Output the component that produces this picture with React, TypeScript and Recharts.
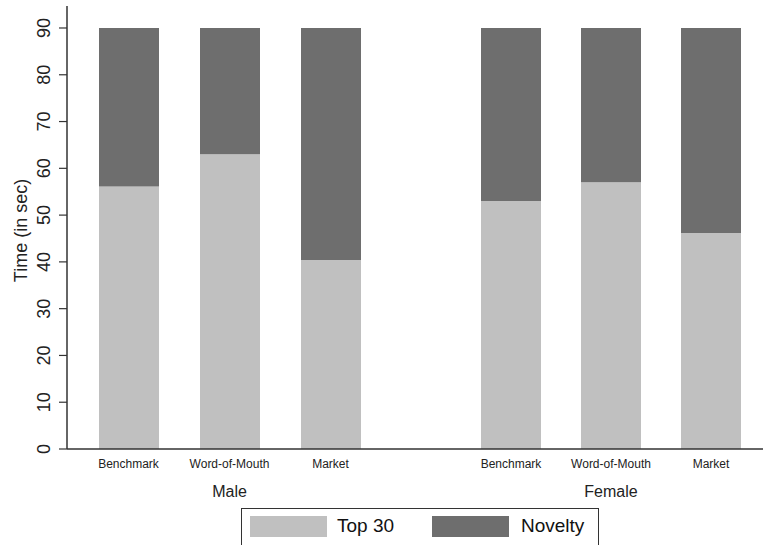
import React from 'react';
import { BarChart, Bar, XAxis, YAxis, Label } from 'recharts';

const categories = ['Benchmark', 'Word-of-Mouth', 'Market'];
const groupLabels = ['Male', 'Female'];
const maleTop30 = [56.1, 63.0, 40.4];
const maleNovelty = [33.9, 27.0, 49.6];
const femaleTop30 = [53.0, 57.0, 46.2];
const femaleNovelty = [37.0, 33.0, 43.8];
const yTicks = [0, 10, 20, 30, 40, 50, 60, 70, 80, 90];
const seriesNames = ['Top 30', 'Novelty'];

const FONT = '"Liberation Sans", Arial, Helvetica, sans-serif';
const LIGHT = '#c0c0c0';
const DARK = '#6e6e6e';
const AXIS = '#333333';

const maleData = categories.map((c, i) => ({ cat: c, top30: maleTop30[i], novelty: maleNovelty[i] }));
const femaleData = categories.map((c, i) => ({ cat: c, top30: femaleTop30[i], novelty: femaleNovelty[i] }));

const Y_DOMAIN: [number, number] = [0, 94.7];

const XTick = (props: any) => {
  const { x, y, payload } = props;
  return (
    <text x={x} y={y + 19} textAnchor="middle" fontSize={12} fontFamily={FONT} fill="#222">
      {payload.value}
    </text>
  );
};

const YTick = (props: any) => {
  const { x, y, payload } = props;
  const bx = x - 9;
  return (
    <text
      x={bx}
      y={y}
      transform={`rotate(-90, ${bx}, ${y})`}
      textAnchor="middle"
      fontSize={18}
      fontFamily={FONT}
      fill="#222"
    >
      {payload.value}
    </text>
  );
};

const groupLabel = (text: string, padL: number, padR: number) => (props: any) => {
  const vb = props.viewBox || {};
  const cx = vb.x + padL + (vb.width - padL - padR) / 2;
  return (
    <text x={cx} y={vb.y + 48} textAnchor="middle" fontSize={16} fontFamily={FONT} fill="#222">
      {text}
    </text>
  );
};

const yLabel = (props: any) => {
  const vb = props.viewBox || {};
  const cy = vb.y + vb.height / 2 + 3;
  const bx = 27;
  return (
    <text
      x={bx}
      y={cy}
      transform={`rotate(-90, ${bx}, ${cy})`}
      textAnchor="middle"
      fontSize={18}
      fontFamily={FONT}
      fill="#222"
    >
      Time (in sec)
    </text>
  );
};

const MALE_PAD = { left: 11, right: 49 };
const FEMALE_PAD = { left: 31, right: 2 };

export default function App() {
  return (
    <div
      style={{
        position: 'absolute',
        left: 0,
        top: 0,
        width: 764,
        height: 545,
        background: '#fff',
        overflow: 'hidden',
        fontFamily: FONT,
      }}
    >
      <div style={{ position: 'absolute', left: 0, top: 0 }}>
        <BarChart width={430} height={545} data={maleData} margin={{ top: 6, right: 0, left: 0, bottom: 0 }}>
          <XAxis
            dataKey="cat"
            height={96}
            padding={MALE_PAD}
            tickLine={false}
            tickSize={0}
            tickMargin={0}
            tick={<XTick />}
            interval={0}
            axisLine={{ stroke: AXIS, strokeWidth: 1.5 }}
          >
            <Label content={groupLabel(groupLabels[0], MALE_PAD.left, MALE_PAD.right)} />
          </XAxis>
          <YAxis
            width={67}
            domain={Y_DOMAIN}
            ticks={yTicks}
            allowDataOverflow
            tickSize={8}
            tickMargin={0}
            tickLine={{ stroke: AXIS, strokeWidth: 1.2 }}
            axisLine={{ stroke: AXIS, strokeWidth: 1.5 }}
            tick={<YTick />}
          >
            <Label content={yLabel} />
          </YAxis>
          <Bar dataKey="top30" stackId="a" fill={LIGHT} barSize={60} isAnimationActive={false} name={seriesNames[0]} />
          <Bar dataKey="novelty" stackId="a" fill={DARK} barSize={60} isAnimationActive={false} name={seriesNames[1]} />
        </BarChart>
      </div>
      <div style={{ position: 'absolute', left: 430, top: 0 }}>
        <BarChart width={334} height={545} data={femaleData} margin={{ top: 6, right: 1, left: 0, bottom: 0 }}>
          <XAxis
            dataKey="cat"
            height={96}
            padding={FEMALE_PAD}
            tickLine={false}
            tickSize={0}
            tickMargin={0}
            tick={<XTick />}
            interval={0}
            axisLine={{ stroke: AXIS, strokeWidth: 1.5 }}
          >
            <Label content={groupLabel(groupLabels[1], FEMALE_PAD.left, FEMALE_PAD.right)} />
          </XAxis>
          <YAxis hide domain={Y_DOMAIN} ticks={yTicks} allowDataOverflow />
          <Bar dataKey="top30" stackId="a" fill={LIGHT} barSize={60} isAnimationActive={false} name={seriesNames[0]} />
          <Bar dataKey="novelty" stackId="a" fill={DARK} barSize={60} isAnimationActive={false} name={seriesNames[1]} />
        </BarChart>
      </div>
      <div
        style={{
          position: 'absolute',
          left: 241,
          top: 508,
          width: 358,
          height: 45,
          border: '1px solid #333',
          boxSizing: 'border-box',
        }}
      >
        <div style={{ position: 'absolute', left: 8, top: 7, width: 77, height: 21, background: LIGHT }} />
        <div
          style={{ position: 'absolute', left: 95, top: 4, fontSize: 19, lineHeight: '26px', color: '#111', fontFamily: FONT }}
        >
          {seriesNames[0]}
        </div>
        <div style={{ position: 'absolute', left: 190, top: 7, width: 77, height: 21, background: DARK }} />
        <div
          style={{ position: 'absolute', left: 279, top: 4, fontSize: 19, lineHeight: '26px', color: '#111', fontFamily: FONT }}
        >
          {seriesNames[1]}
        </div>
      </div>
    </div>
  );
}
